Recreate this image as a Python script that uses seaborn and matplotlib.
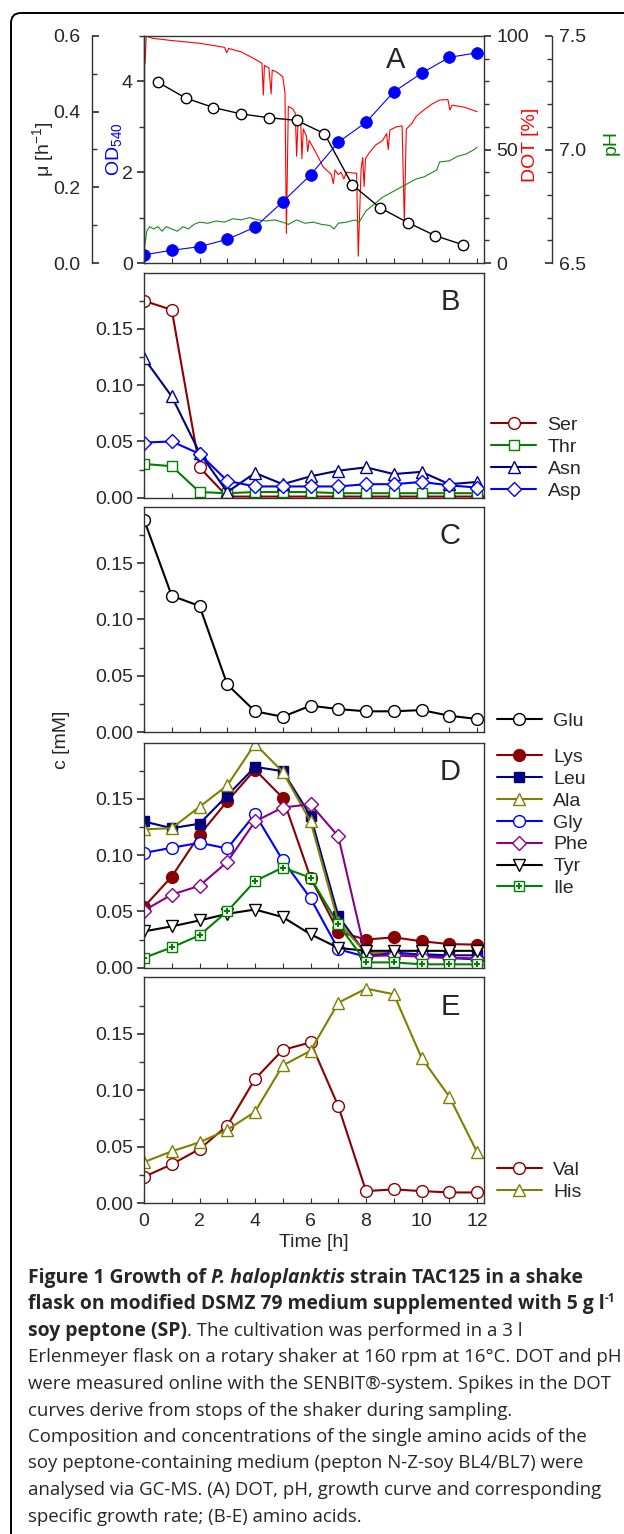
import numpy as np
import seaborn as sns
import matplotlib.pyplot as plt
from matplotlib.lines import Line2D
from matplotlib.patches import FancyBboxPatch
from matplotlib.ticker import MultipleLocator, FixedLocator, FormatStrFormatter

sns.set_theme(style="ticks")
plt.rcParams['font.family'] = ['Liberation Sans', 'DejaVu Sans']
plt.rcParams['mathtext.default'] = 'regular'

# ---- data ----
time = list(range(13))
mu_time = [t + 0.5 for t in range(12)]

od = [0.18, 0.28, 0.36, 0.52, 0.79, 1.35, 1.94, 2.66, 3.10, 3.77, 4.18, 4.53, 4.63]
mu = [0.478, 0.436, 0.411, 0.394, 0.384, 0.377, 0.342, 0.207, 0.146, 0.107, 0.072, 0.048]

dot_t = [0, 0.04, 0.08, 0.3, 1.0, 2.0, 2.9, 2.98, 3.05, 3.5, 3.94, 4.25, 4.3, 4.34, 4.5,
         4.58, 4.62, 4.8, 5.0, 5.08, 5.13, 5.2, 5.35, 5.45, 5.5, 5.55, 5.65, 5.69, 5.74,
         5.85, 5.9, 5.95, 6.2, 6.45, 6.75, 6.82, 6.88, 7.0, 7.1, 7.2, 7.3, 7.66, 7.72,
         7.82, 7.88, 7.93, 7.98, 8.1, 8.35, 8.6, 8.74, 8.8, 8.86, 9.1, 9.3, 9.38, 9.45,
         9.65, 9.8, 10.08, 10.37, 10.66, 10.95, 11.02, 11.1, 11.52, 12.0]
dot_v = [99.5, 88, 100, 99, 98, 96.8, 95, 92.6, 94.5, 93, 90.2, 88, 74, 87, 86,
         74.5, 85, 84, 82, 75, 13, 69, 68, 66, 47, 63, 61, 46, 59,
         56, 49, 54, 48.5, 42.4, 39, 35, 41, 39, 40, 37, 40, 39.5, 3,
         41, 46.5, 33.6, 46, 48.3, 52, 54, 57, 50, 58.6, 60, 60.4, 18, 59,
         61.5, 64.5, 67.4, 70, 71.8, 72, 67.4, 69.5, 68.7, 66.7]

ph_t = [0, 0.1, 0.2, 0.35, 0.5, 0.65, 0.8, 1.0, 1.2, 1.4, 1.6, 1.8, 2.0, 2.3, 2.6, 2.9,
        3.2, 3.5, 3.8, 4.1, 4.4, 4.7, 5.0, 5.2, 5.5, 5.8, 6.1, 6.4, 6.7, 6.85, 7.0, 7.3,
        7.6, 7.75, 7.85, 8.0, 8.3, 8.6, 8.9, 9.2, 9.5, 9.8, 10.1, 10.4, 10.55, 10.65,
        11.0, 11.3, 11.6, 11.9, 12.0]
ph_v = [6.55, 6.64, 6.66, 6.65, 6.66, 6.64, 6.66, 6.65, 6.64, 6.66, 6.65, 6.67, 6.68,
        6.675, 6.685, 6.68, 6.695, 6.69, 6.70, 6.69, 6.685, 6.69, 6.68, 6.67, 6.69, 6.675,
        6.68, 6.67, 6.665, 6.65, 6.675, 6.68, 6.69, 6.68, 6.70, 6.73, 6.76, 6.79, 6.81,
        6.83, 6.85, 6.87, 6.88, 6.90, 6.91, 6.945, 6.95, 6.97, 6.98, 7.00, 7.01]

ser = [0.175, 0.167, 0.027, 0.001, 0.001, 0.001, 0.001, 0.001, 0.001, 0.001, 0.001, 0.001, 0.001]
thr = [0.030, 0.028, 0.005, 0.004, 0.005, 0.005, 0.005, 0.004, 0.004, 0.004, 0.004, 0.004, 0.004]
asn = [0.124, 0.090, 0.040, 0.005, 0.022, 0.012, 0.019, 0.024, 0.027, 0.021, 0.023, 0.012, 0.014]
asp = [0.049, 0.050, 0.039, 0.015, 0.010, 0.010, 0.010, 0.010, 0.012, 0.012, 0.014, 0.011, 0.009]

glu = [0.1886, 0.121, 0.112, 0.0424, 0.0186, 0.0138, 0.0236, 0.0206, 0.0186, 0.0186, 0.0197, 0.0147, 0.0118]

lys = [0.054, 0.081, 0.118, 0.148, 0.176, 0.151, 0.080, 0.032, 0.025, 0.027, 0.0235, 0.021, 0.0205]
leu = [0.130, 0.124, 0.128, 0.153, 0.1785, 0.1747, 0.135, 0.046, 0.012, 0.012, 0.012, 0.011, 0.011]
ala = [0.123, 0.124, 0.143, 0.162, 0.199, 0.174, 0.130, 0.0405, 0.013, 0.013, 0.0097, 0.0088, 0.008]
gly = [0.102, 0.1066, 0.111, 0.106, 0.1365, 0.0954, 0.0617, 0.0164, 0.0097, 0.0135, 0.0117, 0.0088, 0.0073]
phe = [0.0508, 0.065, 0.0728, 0.094, 0.130, 0.1424, 0.1453, 0.1168, 0.0103, 0.011, 0.0097, 0.0088, 0.008]
tyr = [0.0323, 0.0367, 0.042, 0.0479, 0.0517, 0.045, 0.0297, 0.0176, 0.015, 0.015, 0.015, 0.015, 0.015]
ile = [0.0088, 0.018, 0.0288, 0.050, 0.077, 0.089, 0.080, 0.0385, 0.0047, 0.0047, 0.003, 0.003, 0.003]

val = [0.0234, 0.0345, 0.048, 0.0687, 0.110, 0.1357, 0.1424, 0.086, 0.0108, 0.0123, 0.0108, 0.0096, 0.0096]
his = [0.0365, 0.046, 0.054, 0.065, 0.081, 0.122, 0.135, 0.1775, 0.190, 0.185, 0.1287, 0.0944, 0.0453]

DRED, GREEN, NAVY, BLUE = '#8b0000', '#008000', '#000080', '#0000ff'
OLIVE, PURPLE = '#808000', '#8b008b'
SPINE = '#333333'
FS = 14

W, H = 624, 1534
fig = plt.figure(figsize=(W / 100, H / 100), dpi=100)


def rect(top, bottom, left=144, right=484):
    return [left / W, 1 - bottom / H, (right - left) / W, (bottom - top) / H]


def style_spines(ax, keep):
    for name, sp in ax.spines.items():
        sp.set_visible(name in keep)
        sp.set_color(SPINE)
        sp.set_linewidth(1.0)


def xaxis_style(ax, labels=False):
    ax.set_xlim(0, 12.25)
    ax.xaxis.set_major_locator(MultipleLocator(2))
    ax.xaxis.set_minor_locator(MultipleLocator(1))
    ax.tick_params(axis='x', which='both', direction='in', length=3.5, width=0.8,
                   color=SPINE, bottom=True, top=False, labelbottom=labels,
                   labelsize=FS, pad=7)


# ---------------- panel A ----------------
axA = fig.add_axes(rect(36, 263))
axPH = axA.twinx()
axMu = axA.twinx()
axOD = axA.twinx()

sns.lineplot(x=dot_t, y=dot_v, ax=axA, color='red', lw=0.8, estimator=None, sort=False)
sns.lineplot(x=ph_t, y=ph_v, ax=axPH, color='#1a8a1a', lw=0.8, estimator=None, sort=False)
sns.lineplot(x=mu_time, y=mu, ax=axMu, color='black', lw=1.0, marker='o', markersize=7.5,
             markerfacecolor='white', markeredgecolor='black', markeredgewidth=1.0)
sns.lineplot(x=time, y=od, ax=axOD, color=BLUE, lw=0.8, marker='o', markersize=8.5,
             markerfacecolor=BLUE, markeredgecolor=BLUE, markeredgewidth=0.5)

style_spines(axA, ['top', 'bottom', 'left', 'right'])
xaxis_style(axA)
axA.set_ylim(0, 100)
axA.yaxis.tick_right()
axA.yaxis.set_label_position('right')
axA.yaxis.set_major_locator(MultipleLocator(50))
axA.yaxis.set_minor_locator(MultipleLocator(10))
axA.tick_params(axis='y', which='both', direction='out', right=True, left=False,
                color=SPINE, labelsize=FS, pad=4)
axA.tick_params(axis='y', which='major', length=5)
axA.tick_params(axis='y', which='minor', length=3.5)
axA.set_ylabel('DOT [%]', color='red', fontsize=FS)
axA.yaxis.set_label_coords(1.112, 0.52)

style_spines(axPH, ['right'])
axPH.spines['right'].set_position(('axes', 1.2))
axPH.set_ylim(6.5, 7.5)
axPH.yaxis.set_major_locator(MultipleLocator(0.5))
axPH.yaxis.set_minor_locator(MultipleLocator(0.1))
axPH.yaxis.set_major_formatter(FormatStrFormatter('%.1f'))
axPH.tick_params(axis='y', which='both', direction='in', color=SPINE, labelsize=FS, pad=5)
axPH.tick_params(axis='y', which='major', length=5)
axPH.tick_params(axis='y', which='minor', length=3.5)
axPH.set_ylabel('pH', color='green', fontsize=FS)
axPH.yaxis.set_label_coords(1.35, 0.53)

style_spines(axMu, ['left'])
axMu.yaxis.tick_left()
axMu.yaxis.set_label_position('left')
axMu.spines['left'].set_position(('axes', -0.154))
axMu.set_ylim(0, 0.6)
axMu.yaxis.set_major_locator(MultipleLocator(0.2))
axMu.yaxis.set_minor_locator(MultipleLocator(0.1))
axMu.yaxis.set_major_formatter(FormatStrFormatter('%.1f'))
axMu.tick_params(axis='y', which='both', direction='in', color=SPINE, labelsize=FS, pad=8)
axMu.tick_params(axis='y', which='major', length=5)
axMu.tick_params(axis='y', which='minor', length=3.5)
axMu.set_ylabel('μ [h$^{-1}$]', fontsize=FS)
axMu.yaxis.set_label_coords(-0.259, 0.5)

style_spines(axOD, ['left'])
axOD.yaxis.tick_left()
axOD.yaxis.set_label_position('left')
axOD.set_ylim(0, 5)
axOD.yaxis.set_major_locator(MultipleLocator(2))
axOD.yaxis.set_minor_locator(MultipleLocator(1))
axOD.tick_params(axis='y', which='both', direction='out', color=SPINE, labelsize=FS, pad=3)
axOD.tick_params(axis='y', which='major', length=5)
axOD.tick_params(axis='y', which='minor', length=3.5)
axOD.set_ylabel('OD$_{540}$', color=BLUE, fontsize=FS)
axOD.yaxis.set_label_coords(-0.059, 0.5)
axOD.set_xlim(0, 12.25)


# ---------------- amino acid panels ----------------
def amino_panel(top, bottom, series, letter, anchor, loc, last=False):
    ax = fig.add_axes(rect(top, bottom))
    handles = []
    for name, vals, col, mk, ms, filled in series:
        sns.lineplot(x=time, y=vals, ax=ax, color=col, lw=1.5, marker=mk, markersize=ms,
                     markerfacecolor=col if filled else 'white', markeredgecolor=col,
                     markeredgewidth=1.0, legend=False)
        h = Line2D([], [], color=col, lw=1.5, marker=mk, markersize=ms,
                   markerfacecolor=col if filled else 'white', markeredgecolor=col,
                   markeredgewidth=1.0)
        if name == 'Ile':
            ax.plot(time, vals, ls='none', marker='P', markersize=5, color=col,
                    markeredgewidth=0)
            h = (h, Line2D([], [], ls='none', marker='P', markersize=5, color=col,
                           markeredgewidth=0))
        handles.append(h)
    style_spines(ax, ['top', 'bottom', 'left', 'right'])
    xaxis_style(ax, labels=last)
    ax.set_ylim(0, 0.2)
    ax.yaxis.set_major_locator(FixedLocator([0, 0.05, 0.10, 0.15]))
    ax.yaxis.set_minor_locator(FixedLocator([0.025, 0.075, 0.125, 0.175]))
    ax.yaxis.set_major_formatter(FormatStrFormatter('%.2f'))
    ax.tick_params(axis='y', which='both', direction='out', color=SPINE, labelsize=FS,
                   pad=3, right=False)
    ax.tick_params(axis='y', which='major', length=5)
    ax.tick_params(axis='y', which='minor', length=3.5)
    ax.legend(handles, [s[0] for s in series], loc=loc, bbox_to_anchor=anchor,
              frameon=False, borderpad=0, borderaxespad=0, handlelength=2.3,
              handletextpad=0.6, labelspacing=0.22, fontsize=FS, numpoints=1)
    ax.text(0.90, 0.87, letter, transform=ax.transAxes, ha='center', va='center',
            fontsize=21)
    return ax


amino_panel(272.7, 497.7,
            [('Ser', ser, DRED, 'o', 8.5, False),
             ('Thr', thr, GREEN, 's', 7.5, False),
             ('Asn', asn, NAVY, '^', 8.5, False),
             ('Asp', asp, BLUE, 'D', 7, False)],
            'B', (1.021, -0.01), 'lower left')

amino_panel(506.7, 732.3,
            [('Glu', glu, 'black', 'o', 8.5, False)],
            'C', (1.038, 0.009), 'lower left')

amino_panel(742.7, 967.7,
            [('Lys', lys, DRED, 'o', 8.5, True),
             ('Leu', leu, NAVY, 's', 7.5, True),
             ('Ala', ala, OLIVE, '^', 8.5, False),
             ('Gly', gly, BLUE, 'o', 8.5, False),
             ('Phe', phe, PURPLE, 'D', 7, False),
             ('Tyr', tyr, 'black', 'v', 8.5, False),
             ('Ile', ile, GREEN, 's', 7.5, False)],
            'D', (1.038, 0.975), 'upper left')

axE = amino_panel(977.3, 1203.3,
                  [('Val', val, DRED, 'o', 8.5, False),
                   ('His', his, OLIVE, '^', 8.5, False)],
                  'E', (1.038, 0.012), 'lower left', last=True)
axE.set_xlabel('Time [h]', fontsize=FS, labelpad=3)

fig.text(62 / W, 1 - 740 / H, 'c [mM]', rotation=90, ha='center', va='center', fontsize=FS)
fig.text(396 / W, 1 - 60 / H, 'A', ha='center', va='center', fontsize=21)

# ---------------- frame and caption ----------------
frame = FancyBboxPatch((0.11, -1), 10, 15.34 - 0.13 + 1,
                       boxstyle='round,pad=0,rounding_size=0.1',
                       transform=fig.dpi_scale_trans, fill=False, lw=1.4, ec='black')
fig.add_artist(frame)

renderer = fig.canvas.get_renderer()
CAP_FONT = 'Open Sans'


def text_w(s, size, weight='normal', style='normal'):
    t = fig.text(0, 0, s, fontsize=size, fontweight=weight, fontstyle=style, family=CAP_FONT)
    w = t.get_window_extent(renderer).width
    t.remove()
    return w


caption = [
    [('Figure 1 Growth of', 'bold', 'normal', 0), ('P. haloplanktis', 'bold', 'italic', 0),
     ('strain TAC125 in a shake', 'bold', 'normal', 0)],
    [('flask on modified DSMZ 79 medium supplemented with 5 g l', 'bold', 'normal', 0),
     ('-1', 'bold', 'normal', 1)],
    [('soy peptone (SP)', 'bold', 'normal', 0), ('. The cultivation was performed in a 3 l', 'normal', 'normal', 2)],
    [('Erlenmeyer flask on a rotary shaker at 160 rpm at 16°C. DOT and pH', 'normal', 'normal', 0)],
    [('were measured online with the SENBIT®-system. Spikes in the DOT', 'normal', 'normal', 0)],
    [('curves derive from stops of the shaker during sampling.', 'normal', 'normal', 0)],
    [('Composition and concentrations of the single amino acids of the', 'normal', 'normal', 0)],
    [('soy peptone-containing medium (pepton N-Z-soy BL4/BL7) were', 'normal', 'normal', 0)],
    [('analysed via GC-MS. (A) DOT, pH, growth curve and corresponding', 'normal', 'normal', 0)],
    [('specific growth rate; (B-E) amino acids.', 'normal', 'normal', 0)],
]

reg_size = 12 * 590 / text_w(caption[3][0][0], 12)
bsp = text_w('a a', 12, 'bold') - text_w('aa', 12, 'bold')
line1_w = (text_w('Figure 1 Growth of', 12, 'bold') + text_w('P. haloplanktis', 12, 'bold', 'italic')
           + text_w('strain TAC125 in a shake', 12, 'bold') + 2 * bsp)
line2_w = text_w(caption[1][0][0], 12, 'bold') + text_w('-1', 7.2, 'bold')
bold_size = min(12 * 590 / line1_w, 12 * 588 / line2_w)

for i, line in enumerate(caption):
    y = 1278 + i * 26.5
    x = 28
    for j, (txt, weight, style, kind) in enumerate(line):
        size = bold_size if weight == 'bold' else reg_size
        yy = y
        if kind == 1:
            size = size * 0.6
            yy = y - 6
        elif j > 0 and kind == 0:
            x += text_w('a a', size, weight) - text_w('aa', size, weight)
        t = fig.text(x / W, 1 - yy / H, txt, fontsize=size, fontweight=weight,
                     fontstyle=style, family=CAP_FONT, ha='left', va='center')
        x += t.get_window_extent(renderer).width

fig.savefig('out.png', dpi=100)
